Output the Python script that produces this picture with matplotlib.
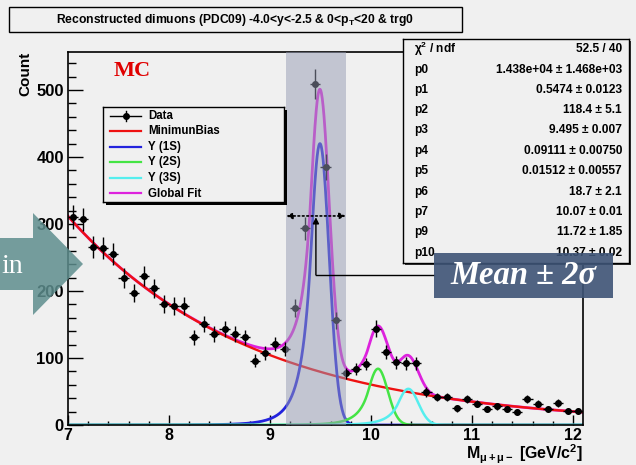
import matplotlib
matplotlib.use("Agg")
import matplotlib.pyplot as plt
import numpy as np
from matplotlib.patches import Rectangle, Polygon
from matplotlib.ticker import MultipleLocator

plt.rcParams.update({
    "font.family": ["Liberation Sans", "DejaVu Sans"],
    "font.weight": "bold",
    "mathtext.fontset": "custom",
    "mathtext.rm": "Liberation Sans:bold",
    "mathtext.it": "Liberation Sans:bold",
    "mathtext.bf": "Liberation Sans:bold",
})

W, H = 636, 465
BG = "#f0f0f0"

# histogram (bin centres in GeV/c2, counts per bin)
mass = [7.05, 7.15, 7.25, 7.35, 7.45, 7.55, 7.65, 7.75, 7.85, 7.95,
        8.05, 8.15, 8.25, 8.35, 8.45, 8.55, 8.65, 8.75, 8.85, 8.95,
        9.05, 9.15, 9.25, 9.35, 9.45, 9.55, 9.65, 9.75, 9.85, 9.95,
        10.05, 10.15, 10.25, 10.35, 10.45, 10.55, 10.65, 10.75, 10.85, 10.95,
        11.05, 11.15, 11.25, 11.35, 11.45, 11.55, 11.65, 11.75, 11.85, 11.95,
        12.05]
counts = [310, 307, 266, 264, 255, 219, 197, 222, 204, 181,
          177, 178, 131, 151, 136, 143, 136, 131, 96, 107,
          121, 113, 175, 294, 509, 385, 156, 77, 83, 91,
          144, 109, 94, 92, 92, 49, 42, 42, 25, 39,
          32, 24, 28, 24, 20, 39, 32, 24, 33, 21,
          21]

# fit results shown in the stats box
stat_labels = ["χ$^{2}$ / ndf", "p0", "p1", "p2", "p3", "p4", "p5", "p6", "p7", "p9", "p10"]
stat_values = ["52.5 / 40", "1.438e+04 ± 1.468e+03", "0.5474 ± 0.0123", "118.4 ± 5.1",
               "9.495 ± 0.007", "0.09111 ± 0.00750", "0.01512 ± 0.00557", "18.7 ± 2.1",
               "10.07 ± 0.01", "11.72 ± 1.85", "10.37 ± 0.02"]
bkg_norm, bkg_slope = 1.438e4, 0.5474
ups_mean = [9.495, 10.07, 10.37]
ups_sigma = 0.09111
ups_height = [420, 84, 54]          # peak heights
band = (9.16, 9.75)                 # shaded mean +- 2 sigma window
band_centre = 9.455
arrow_level = 312

legend_labels = ["Data", "MinimunBias", "Υ (1S)", "Υ (2S)", "Υ (3S)", "Global Fit"]
colors = {"bkg": "#ee1111", "1s": "#2323dd", "2s": "#44e444", "3s": "#55eeee", "fit": "#dd22dd"}


def crystal_ball(x, amp, mu, sigma, alpha=1.0, n=6.0):
    t = (x - mu) / sigma
    a = (n / alpha) ** n * np.exp(-alpha ** 2 / 2)
    b = n / alpha - alpha
    tail = a * (b - np.minimum(t, -alpha)) ** (-n)
    return amp * np.where(t > -alpha, np.exp(-t ** 2 / 2), tail)


def fx(px):
    return px / W


def fy(py):
    return 1 - py / H


fig = plt.figure(figsize=(W / 100, H / 100), dpi=100, facecolor=BG)

ax = fig.add_axes([fx(68), fy(425), 515 / W, 373 / H], zorder=1)
ax.set_facecolor(BG)
ax.set_xlim(7, 12.1)
ax.set_ylim(0, 556.7)
for s in ax.spines.values():
    s.set_linewidth(1.2)
ax.xaxis.set_major_locator(MultipleLocator(1))
ax.xaxis.set_minor_locator(MultipleLocator(0.2))
ax.yaxis.set_major_locator(MultipleLocator(100))
ax.yaxis.set_minor_locator(MultipleLocator(20))
ax.tick_params(axis="y", which="major", direction="in", length=11, width=1, labelsize=12, pad=3)
ax.tick_params(axis="y", which="minor", direction="in", length=5.5, width=1)
ax.tick_params(axis="x", which="major", direction="in", length=7, width=1, labelsize=11.5, pad=2)
ax.tick_params(axis="x", which="minor", direction="in", length=3, width=1)
for lab in ax.get_xticklabels() + ax.get_yticklabels():
    lab.set_fontweight("bold")

xs = np.linspace(7, 12.1, 1200)
bkg = bkg_norm * np.exp(-bkg_slope * xs)
peaks = [crystal_ball(xs, h, m, ups_sigma * m / ups_mean[0]) for h, m in zip(ups_height, ups_mean)]
total = bkg + sum(peaks)

ax.plot(xs, total, color=colors["fit"], lw=2.0, zorder=2)
ax.plot(xs, bkg, color=colors["bkg"], lw=1.7, zorder=2.1)
ax.plot(xs, peaks[0], color=colors["1s"], lw=2.0, zorder=2.2)
ax.plot(xs, peaks[1], color=colors["2s"], lw=1.8, zorder=2.2)
ax.plot(xs, peaks[2], color=colors["3s"], lw=1.8, zorder=2.2)

cnt = np.array(counts, dtype=float)
ax.errorbar(mass, cnt, yerr=np.sqrt(cnt), xerr=0.05, fmt="o", color="black",
            ms=4, elinewidth=1, capsize=0, zorder=4)

ax.axvspan(*band, color="#969cb4", alpha=0.5, lw=0, zorder=5)
ax.annotate("", xy=(band[0], arrow_level), xytext=(band[1], arrow_level),
            arrowprops=dict(arrowstyle="<|-|>", ls=":", lw=1.2, color="black",
                            mutation_scale=9, shrinkA=0, shrinkB=0), zorder=6)
ax.annotate("", xy=(band_centre, arrow_level - 2), xytext=(band_centre, 224),
            arrowprops=dict(arrowstyle="-|>", lw=1, color="black",
                            mutation_scale=9, shrinkA=0, shrinkB=0), zorder=6)
ax.plot([band_centre, 10.62], [224, 224], color="black", lw=1, zorder=6)

# title box
fig.add_artist(Rectangle((fx(9), fy(32)), 453 / W, 25 / H, transform=fig.transFigure,
                         facecolor=BG, edgecolor="black", lw=1, zorder=2))
fig.text(fx(235), fy(19.5), "Reconstructed dimuons (PDC09) -4.0<y<-2.5 & 0<p$_{T}$<20 & trg0",
         ha="center", va="center", fontsize=8.7, fontweight="bold", zorder=3)

# legend box
fig.add_artist(Rectangle((fx(106), fy(205)), 181 / W, 95 / H, transform=fig.transFigure,
                         facecolor="black", lw=0, zorder=2.5))
lg = fig.add_axes([fx(103), fy(202), 181 / W, 95 / H], zorder=3)
lg.set_facecolor(BG)
lg.set_xlim(103, 284)
lg.set_ylim(202, 107)
lg.set_xticks([])
lg.set_yticks([])
for s in lg.spines.values():
    s.set_linewidth(1)
row_y = [116, 131.5, 147, 162.5, 178, 193.5]
leg_colors = ["black", colors["bkg"], colors["1s"], colors["2s"], colors["3s"], colors["fit"]]
for i, (lab, c) in enumerate(zip(legend_labels, leg_colors)):
    y = row_y[i]
    lg.plot([110, 141], [y, y], color=c, lw=1.6 if i else 1)
    if i == 0:
        lg.plot([125.5], [y], "o", color="black", ms=4)
        lg.plot([125.5, 125.5], [y - 5, y + 5], color="black", lw=1)
    lg.text(148, y, lab, ha="left", va="center", fontsize=8.3, fontweight="bold")

# stats box
fig.add_artist(Rectangle((fx(405), fy(265)), 226 / W, 224 / H, transform=fig.transFigure,
                         facecolor="#333333", lw=0, zorder=2.5))
st = fig.add_axes([fx(403), fy(263), 226 / W, 224 / H], zorder=3)
st.set_facecolor(BG)
st.set_xlim(403, 629)
st.set_ylim(263, 39)
st.set_xticks([])
st.set_yticks([])
for s in st.spines.values():
    s.set_linewidth(1)
stat_y = [49, 70, 90, 110, 130, 151, 171, 192, 212, 232, 253]
for lab, val, y in zip(stat_labels, stat_values, stat_y):
    st.text(414, y, lab, ha="left", va="center", fontsize=8.6, fontweight="bold")
    st.text(622, y, val, ha="right", va="center", fontsize=8.6, fontweight="bold")

# overlay annotations
fig.add_artist(Rectangle((fx(434), fy(298)), 179 / W, 45 / H, transform=fig.transFigure,
                         facecolor="#3e5476", alpha=0.9, lw=0, zorder=10))
fig.text(fx(523), fy(276), "Mean ± 2σ", ha="center", va="center", color="white",
         fontsize=23.5, fontweight="bold", fontstyle="italic",
         family=["Liberation Serif", "DejaVu Serif"], zorder=11)

arrow_px = [(0, 238), (33, 238), (33, 213), (83, 264), (33, 315), (33, 290), (0, 290)]
fig.add_artist(Polygon([(fx(px), fy(py)) for px, py in arrow_px], closed=True,
                       transform=fig.transFigure, facecolor="#5e8e8e", alpha=0.85,
                       lw=0, zorder=10))
fig.text(fx(23), fy(273), "in", ha="right", va="baseline", color="white", fontsize=20,
         fontweight="normal", family=["Liberation Serif", "DejaVu Serif"], zorder=11)

fig.text(fx(132), fy(71), "MC", ha="center", va="center", color="#e00000", fontsize=16,
         fontweight="bold", family=["Liberation Serif", "DejaVu Serif"], zorder=11)

fig.text(fx(25), fy(52), "Count", rotation=90, ha="center", va="top", fontsize=11,
         fontweight="bold", family=["Liberation Sans Narrow", "Liberation Sans", "DejaVu Sans"])
fig.text(fx(583), fy(454), r"M$_{\mu+\mu-}$ [GeV/c$^{2}$]", ha="right", va="center",
         fontsize=11.5, fontweight="bold")

fig.savefig("out.png", dpi=100, facecolor=BG)
